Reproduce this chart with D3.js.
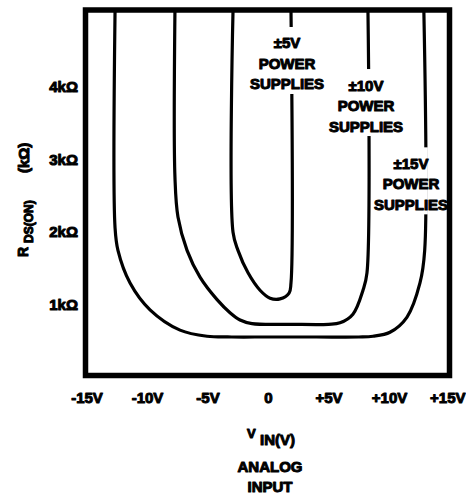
<!DOCTYPE html>
<html><head><meta charset="utf-8">
<script src="https://cdn.jsdelivr.net/npm/d3@7"></script>
<style>
html,body{margin:0;padding:0;background:#fff;}
svg text{font-family:"Liberation Sans",Arial,sans-serif;font-weight:bold;fill:#000;stroke:#000;stroke-width:1px;stroke-linejoin:round;}
</style></head>
<body>
<svg id="chart" width="466" height="496"></svg>
<script>
// ---- data ----
const xTicks = [-15, -10, -5, 0, 5, 10, 15];
const xTickLabels = ["-15V", "-10V", "-5V", "0", "+5V", "+10V", "+15V"];
const yTicks = [1, 2, 3, 4];
const yTickLabels = ["1k\u03A9", "2k\u03A9", "3k\u03A9", "4k\u03A9"];

const seriesNames = ["\u00B15V", "\u00B110V", "\u00B115V"];
// ±5V supplies
const vin5 = [-2.89, -2.89, -2.48, -1.65, -0.66, 0.17, 0.99, 1.74, 1.90, 1.90];
const ron5 = [5.05, 1.99, 1.74, 1.43, 1.19, 1.08, 1.07, 1.15, 1.29, 5.05];
// ±10V supplies
const vin10 = [-7.69, -7.69, -7.44, -6.69, -5.62, -4.21, -3.14, -2.31, -1.32, 2.0, 5.0, 5.95, 7.02, 7.85, 8.18, 8.26];
const ron10 = [5.05, 2.75, 2.20, 1.74, 1.37, 1.06, 0.88, 0.78, 0.73, 0.72, 0.72, 0.74, 0.86, 1.19, 1.43, 5.05];
// ±15V supplies
const vin15 = [-12.64, -12.64, -12.40, -11.40, -9.75, -7.27, -5.04, -3.0, 0, 4.0, 7.5, 8.68, 10.08, 11.49, 12.56, 12.95, 12.88];
const ron15 = [5.05, 2.05, 1.74, 1.29, 0.92, 0.64, 0.555, 0.545, 0.545, 0.545, 0.545, 0.555, 0.61, 0.82, 1.29, 1.74, 5.05];

// label anchor (first line centre) in data units, and the line each label interrupts
const labelVin = [1.57, 8.1, 11.82];
const labelRon = [4.6, 4.02, 2.94];
const gapVin = [1.90, 8.26, 12.88];

// ---- chart ----
const svg = d3.select("#chart");
const x = d3.scaleLinear().domain([-15, 15]).range([86.5, 449.5]);
const y = d3.scaleLinear().domain([0, 5.055]).range([376.5, 10]);

const series = [
  {v: vin5, r: ron5},
  {v: vin10, r: ron10},
  {v: vin15, r: ron15}
];

const line = d3.line()
  .x(d => x(d[0])).y(d => y(d[1]))
  .curve(d3.curveCatmullRom.alpha(0.5));

svg.append("g").selectAll("path").data(series).join("path")
  .attr("d", s => line(s.v.map((v, i) => [v, s.r[i]])))
  .attr("fill", "none").attr("stroke", "#000").attr("stroke-width", 3.2);

// gaps + labels
const lg = svg.append("g");
seriesNames.forEach((name, i) => {
  const cx = x(labelVin[i]), cy = y(labelRon[i]);
  lg.append("rect")
    .attr("x", x(gapVin[i]) - 4).attr("width", 8)
    .attr("y", cy - 16).attr("height", 67)
    .attr("fill", "#fff");
  const lines = [name, "POWER", "SUPPLIES"];
  lines.forEach((t, j) => {
    lg.append("text").attr("x", cx).attr("y", cy + j * 20.5)
      .attr("text-anchor", "middle").attr("dominant-baseline", "central")
      .attr("font-size", 15).text(t);
  });
});

// frame
svg.append("rect")
  .attr("x", x(-15) - 1).attr("y", y(5.055))
  .attr("width", x(15) - x(-15) + 1).attr("height", y(0) - y(5.055) - 1)
  .attr("fill", "none").attr("stroke", "#000").attr("stroke-width", 5.5);

// x tick labels
const xAxis = d3.axisBottom(x).tickValues(xTicks)
  .tickFormat((d, i) => xTickLabels[i]).tickSize(0).tickPadding(0);
const gx = svg.append("g").attr("transform", "translate(0,392)").call(xAxis);
gx.select(".domain").remove();
gx.selectAll("text").attr("font-size", 15).attr("font-family", null).attr("fill", null).attr("dy", "0.71em");
// keep the last label inside the page
gx.selectAll(".tick").filter(d => d === 15).select("text")
  .attr("text-anchor", "end").attr("x", 465 - x(15));

// y tick labels
const yAxis = d3.axisLeft(y).tickValues(yTicks)
  .tickFormat((d, i) => yTickLabels[i]).tickSize(0).tickPadding(0);
const gy = svg.append("g").attr("transform", "translate(78,0)").call(yAxis);
gy.select(".domain").remove();
gy.selectAll("text").attr("font-size", 15).attr("font-family", null).attr("fill", null).attr("dy", "0.36em");

// y title
const yt = svg.append("text")
  .attr("transform", "translate(28,257) rotate(-90)")
  .attr("text-anchor", "start").attr("font-size", 14);
yt.append("tspan").attr("x", 0).text("R");
yt.append("tspan").attr("x", 14).attr("font-size", 12).attr("dy", 5).text("DS(ON)");
yt.append("tspan").attr("x", 84).attr("font-size", 15).attr("dy", -4).text("(k\u03A9)");

// x title
const xt = svg.append("text").attr("x", 247).attr("y", 438)
  .attr("text-anchor", "start").attr("font-size", 13);
xt.append("tspan").text("V");
xt.append("tspan").attr("x", 260).attr("font-size", 15).attr("dy", 7).text("IN(V)");
svg.append("text").attr("x", 270).attr("y", 472).attr("text-anchor", "middle")
  .attr("font-size", 15).text("ANALOG");
svg.append("text").attr("x", 270).attr("y", 492).attr("text-anchor", "middle")
  .attr("font-size", 15).text("INPUT");
</script>
</body></html>
